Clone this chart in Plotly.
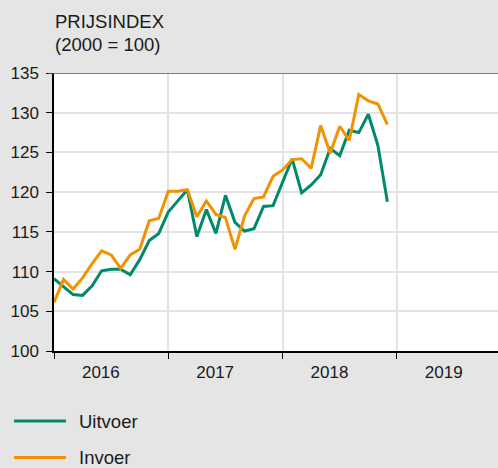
import plotly.graph_objects as go

# Monthly data Jan 2016 .. Dec 2018
months = list(range(36))
uitvoer = [109.1, 108.1, 107.1, 107.0, 108.2, 110.1, 110.3, 110.3, 109.6, 111.5, 113.9, 114.8,
           117.5, 118.9, 120.3, 114.4, 117.8, 114.8, 119.6, 116.2, 115.1, 115.4, 118.2, 118.3,
           121.2, 124.2, 119.9, 120.9, 122.2, 125.5, 124.6, 127.8, 127.5, 129.8, 125.9, 118.8]
invoer = [106.1, 109.0, 107.8, 109.2, 111.0, 112.6, 112.1, 110.4, 112.1, 112.8, 116.4, 116.7,
          120.1, 120.1, 120.3, 116.9, 118.9, 117.2, 116.8, 112.8, 117.0, 119.2, 119.4, 122.0,
          122.8, 124.1, 124.2, 123.0, 128.4, 124.9, 128.3, 126.5, 132.3, 131.5, 131.1, 128.5]
years = [2016, 2017, 2018, 2019]
series_names = ["Uitvoer", "Invoer"]
colors = ["#00896a", "#f39200"]
title_lines = ["PRIJSINDEX", "(2000 = 100)"]

x = [2016 + m / 12 for m in months]

FONT = "Liberation Sans, Arial, sans-serif"
TXT = "#1a1a1a"
PH = 468 - 73 - 117

fig = go.Figure()
for name, vals, col in zip(series_names, [uitvoer, invoer], colors):
    fig.add_trace(go.Scatter(x=x, y=vals, mode="lines", name=name,
                             line=dict(color=col, width=3), showlegend=False,
                             hoverinfo="skip"))

fig.update_layout(
    width=498, height=468,
    margin=dict(l=54, r=0, t=73, b=117),
    paper_bgcolor="#e5e5e5", plot_bgcolor="#ffffff",
    font=dict(family=FONT, size=17, color=TXT),
)
fig.update_xaxes(
    range=[2016, 2016 + 444 / 114.3],
    tickmode="array", tickvals=[y + 0.41 for y in years], ticktext=[str(y) for y in years],
    ticks="", showgrid=False, showline=True, linecolor="#000", linewidth=1.5,
    zeroline=False, fixedrange=True, ticklabelstandoff=5,
    minor=dict(tickmode="linear", tick0=2016, dtick=1, ticks="outside", ticklen=6,
               tickcolor="#000", tickwidth=1, showgrid=True, gridcolor="#e3e3e3", gridwidth=1.5),
    tickfont=dict(size=17, color=TXT),
)
fig.update_yaxes(
    range=[100, 135], dtick=5, tick0=100, ticks="outside", ticklen=6, tickcolor="#000",
    showline=True, linecolor="#000", linewidth=1.5, showgrid=True, gridcolor="#e3e3e3",
    gridwidth=1.5, zeroline=False, ticklabelstandoff=4, fixedrange=True,
    tickfont=dict(size=17, color=TXT),
)
# Darker top line at 135
fig.add_shape(type="line", xref="paper", yref="y", x0=-6 / 444, x1=1, y0=135, y1=135,
              line=dict(color="#555555", width=1.5))

for i, t in enumerate(title_lines):
    ypix = 21.2 + 23.3 * i
    fig.add_annotation(xref="paper", yref="paper", x=-1 / 444, y=(468 - ypix - 117) / PH,
                       xanchor="left", yanchor="middle", text=t, showarrow=False,
                       font=dict(size=18.5, color=TXT, family=FONT))

# Legend drawn manually
for i, (name, col) in enumerate(zip(series_names, colors)):
    ypix = 421 + 36.5 * i
    yp = (468 - ypix - 117) / PH
    fig.add_shape(type="line", xref="paper", yref="paper",
                  x0=(14 - 54) / 444, x1=(66 - 54) / 444, y0=yp, y1=yp,
                  line=dict(color=col, width=3))
    fig.add_annotation(xref="paper", yref="paper", x=(77 - 54) / 444, y=yp,
                       xanchor="left", yanchor="middle", text=name, showarrow=False,
                       font=dict(size=18.5, color=TXT, family=FONT))

fig.write_html("out.html", config={"displayModeBar": False},
               post_script="document.body.style.margin='0';document.body.style.overflow='hidden';")
